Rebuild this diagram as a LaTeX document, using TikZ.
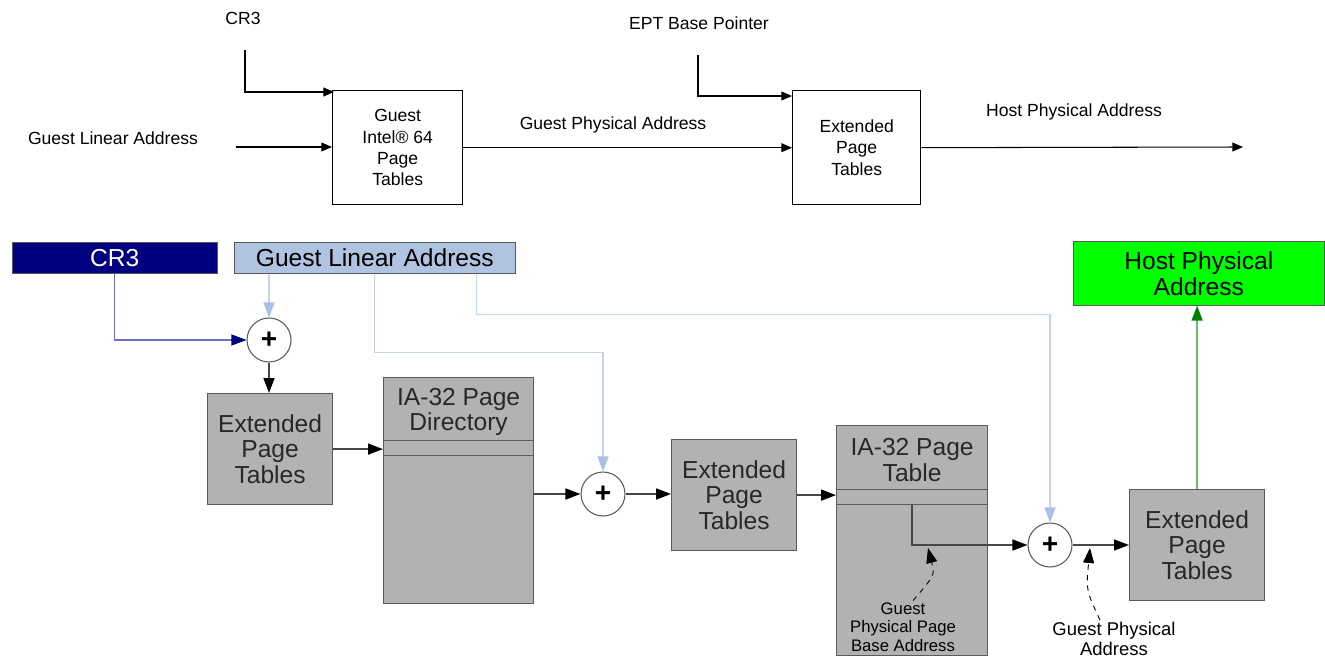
\documentclass[tikz,border=0pt]{standalone}
\usepackage{fontspec}
\setmainfont{Liberation Sans}
\usetikzlibrary{arrows.meta,calc,positioning}
\definecolor{eptgray}{RGB}{178,178,178}
\definecolor{edgegray}{RGB}{90,90,90}
\definecolor{flowgray}{RGB}{70,70,70}
\definecolor{crnavy}{RGB}{0,0,128}
\definecolor{crline}{RGB}{110,110,200}
\definecolor{glablue}{RGB}{176,196,226}
\definecolor{glaline}{RGB}{196,212,240}
\definecolor{glahead}{RGB}{170,192,228}
\definecolor{hpagreen}{RGB}{0,255,0}
\definecolor{hpaline}{RGB}{100,190,100}
\definecolor{hpadark}{RGB}{0,128,0}
\tikzset{
    % Text styles
    label text/.style={
        font=\fontsize{10}{12}\selectfont,
        inner sep=1pt
    },
    small text/.style={
        font=\fontsize{9.5}{10.5}\selectfont,
        align=center,
        inner sep=1pt
    },
    % Box styles
    plain box/.style={
        draw=black,
        line width=0.8pt,
        rectangle,
        anchor=north west,
        align=center,
        font=\fontsize{10}{12.1}\selectfont,
        minimum height=2.28cm
    },
    ept box/.style={
        draw=edgegray,
        fill=eptgray,
        line width=0.7pt,
        rectangle,
        anchor=north west,
        align=center,
        text={rgb,255:red,40;green,40;blue,40},
        font=\fontsize{14}{14.7}\selectfont,
        minimum height=2.22cm
    },
    table box/.style={
        draw=edgegray,
        fill=eptgray,
        line width=0.7pt,
        rectangle,
        anchor=north west
    },
    strip box/.style={
        draw=edgegray,
        fill=eptgray,
        line width=0.7pt,
        rectangle,
        anchor=north west,
        minimum height=0.3cm,
        inner sep=0pt
    },
    header text/.style={
        align=center,
        text={rgb,255:red,40;green,40;blue,40},
        font=\fontsize{14}{14.7}\selectfont
    },
    adder/.style={
        circle,
        draw=edgegray,
        fill=white,
        line width=0.6pt,
        minimum size=0.88cm,
        inner sep=0pt,
        font=\fontsize{16}{16}\selectfont\bfseries
    },
    % Arrow styles
    top arrow/.style={
        -{Triangle[length=6pt,width=5pt]},
        line width=0.6pt
    },
    black flow/.style={
        -{Triangle[length=0.3cm,width=0.22cm,fill=black,color=black]},
        draw=flowgray,
        line width=0.9pt
    },
    light flow/.style={
        -{Triangle[length=0.3cm,width=0.22cm,fill=glahead,color=glahead]},
        draw=glaline,
        line width=0.6pt
    },
    navy flow/.style={
        -{Triangle[length=0.3cm,width=0.22cm,fill=crnavy,color=crnavy]},
        draw=crline,
        line width=0.6pt
    },
    green flow/.style={
        -{Triangle[length=0.3cm,width=0.22cm,fill=hpadark,color=hpadark]},
        draw=hpaline,
        line width=0.8pt
    },
    dash flow/.style={
        -{Triangle[length=0.3cm,width=0.22cm]},
        dashed,
        line width=0.5pt
    }
}

\begin{document}
\begin{tikzpicture}[x=0.02cm, y=-0.02cm]
    \useasboundingbox (0,0) rectangle (1325,658);

    % overview
    \node[label text] (cr3lbl) at (243,18) {CR3};
    \node[label text] (glalbl) at (113,138) {Guest Linear Address};
    \node[plain box, minimum width=2.6cm] (guestpt) at (332,90)
        {Guest\\Intel® 64\\Page\\Tables};
    \node[label text] (gpalbl) at (613,125) {Guest Physical Address};
    \node[label text] (eptplbl) at (699,23) {EPT Base Pointer};
    \node[plain box, minimum width=2.56cm] (topept) at (792,90)
        {Extended\\Page\\Tables};
    \node[label text] (hpalbl) at (1074,112) {Host Physical Address};

    \coordinate (cr3start) at (245,50);
    \coordinate (glastart) at (236,147);
    \coordinate (eptpstart) at (698,55);
    \coordinate (hpaend) at (1243,147);

    \draw[top arrow] (cr3start) |- ($(guestpt.north west)+(2,2)$);
    \draw[top arrow] (glastart) -- (glastart -| guestpt.west);
    \draw[top arrow] (guestpt.east) -- (topept.west);
    \draw[top arrow] (eptpstart) |- ($(topept.north west)+(0,6)$);
    \draw[top arrow] (topept.east) -- (hpaend);

    % detailed walk
    \node[fill=crnavy, draw=edgegray, anchor=north west, minimum width=4.1cm,
        minimum height=0.62cm, text=white, font=\fontsize{14}{14}\selectfont]
        (cr3) at (12,242) {CR3};
    \node[fill=glablue, draw=edgegray, anchor=north west, minimum width=5.62cm,
        minimum height=0.62cm, font=\fontsize{14}{14}\selectfont]
        (gla) at (234,242) {Guest Linear Address};
    \node[fill=hpagreen, draw=edgegray, anchor=north west, minimum width=5.02cm,
        minimum height=1.28cm, align=center, font=\fontsize{14}{14.7}\selectfont]
        (hpa) at (1073,241) {Host Physical\\Address};

    \node[adder] (sum1) at (269,340) {+};
    \node[ept box, minimum width=2.5cm] (ept1) at (207,393) {Extended\\Page\\Tables};

    \node[table box, minimum width=3cm, minimum height=4.52cm] (pd) at (383,377) {};
    \node[header text] (pdhead) at ($(pd.north)+(0,35)$) {IA-32 Page\\Directory};
    \node[strip box, minimum width=3cm] (pdrow) at ($(pd.north west)+(0,63)$) {};

    \node[adder] (sum2) at (603,494) {+};
    \node[ept box, minimum width=2.5cm] (ept2) at (671,439) {Extended\\Page\\Tables};

    \node[table box, minimum width=3.02cm, minimum height=4.6cm] (pt) at (836,425) {};
    \node[header text] (pthead) at ($(pt.north)+(0,35)$) {IA-32 Page\\Table};
    \node[strip box, minimum width=3.02cm] (ptrow) at ($(pt.north west)+(0,64)$) {};

    \node[adder] (sum3) at (1050,545) {+};
    \node[ept box, minimum width=2.7cm] (ept3) at (1129,489) {Extended\\Page\\Tables};

    \node[small text] (gppba) at (903,627) {Guest\\Physical Page\\Base Address};
    \node[small text, font=\fontsize{10.5}{11.5}\selectfont] (gpa) at (1114,639)
        {Guest Physical\\Address};
    \coordinate (ppbase) at (928,548);
    \coordinate (gpapoint) at (1090,548);

    \draw[navy flow] (cr3.south) |- (sum1.west);
    \draw[light flow] (sum1 |- gla.south) -- (sum1.north);
    \draw[black flow] (sum1.south) -- (sum1.south |- ept1.north);
    \draw[black flow] (ept1.east) -- (ept1.east -| pd.west);
    \draw[black flow] (pd.east |- sum2) -- (sum2.west);
    \draw[light flow] (gla.south) -- ++(0,79) -| (sum2.north);
    \draw[light flow] ($(gla.south east)+(-39,0)$) -- ++(0,41) -| (sum3.north);
    \draw[black flow] (sum2.east) -- (sum2.east -| ept2.west);
    \draw[black flow] (ept2.east) -- (ept2.east -| pt.west);
    \draw[black flow] (ptrow.south) |- (sum3.west);
    \draw[black flow] (sum3.east) -- (sum3.east -| ept3.west);
    \draw[green flow] (ept3.north) -- (ept3.north |- hpa.south);

    \draw[dash flow] ([xshift=0.2cm]gppba.north) .. controls (935,575) .. (ppbase);
    \draw[dash flow] ([xshift=-0.28cm]gpa.north) .. controls (1086,590) .. (gpapoint);
\end{tikzpicture}
\end{document}
